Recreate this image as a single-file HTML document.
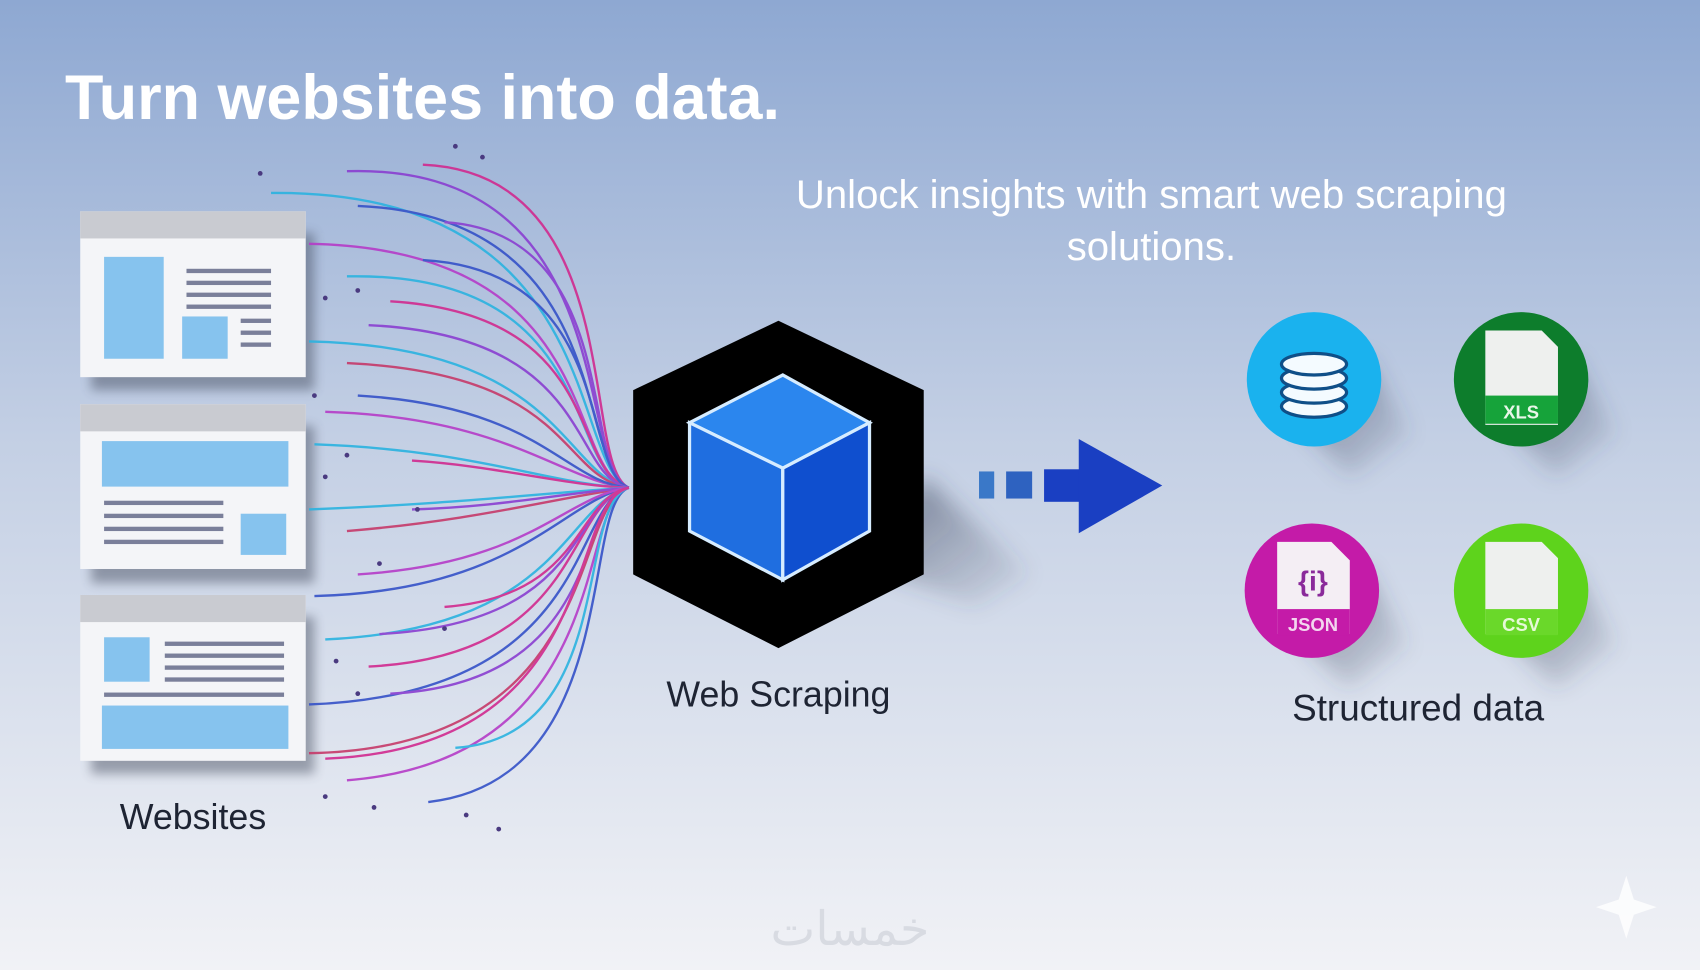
<!DOCTYPE html>
<html><head><meta charset="utf-8"><style>
html,body{margin:0;padding:0;width:1700px;height:970px;overflow:hidden}
svg{display:block}
text{font-family:"Liberation Sans",sans-serif}
</style></head><body>
<svg width="1700" height="970" viewBox="0 0 1568 895" preserveAspectRatio="none" xmlns="http://www.w3.org/2000/svg">
<defs>
<linearGradient id="bg" x1="0" y1="0" x2="0" y2="1">
<stop offset="0" stop-color="#8ea8d2"/><stop offset="0.45" stop-color="#c3cfe4"/><stop offset="1" stop-color="#f1f2f6"/>
</linearGradient>
<linearGradient id="sh" x1="0" y1="0" x2="1" y2="1">
<stop offset="0" stop-color="#3a4258" stop-opacity="0.6"/><stop offset="1" stop-color="#3a4258" stop-opacity="0"/>
</linearGradient>
<filter id="bl" x="-50%" y="-50%" width="200%" height="200%"><feGaussianBlur stdDeviation="10"/></filter>
<filter id="bl2" x="-50%" y="-50%" width="200%" height="200%"><feGaussianBlur stdDeviation="5"/></filter>
</defs>
<rect width="1568" height="895" fill="url(#bg)"/>
<text x="60" y="110" font-size="58" font-weight="bold" fill="#fff">Turn websites into data.</text>
<text x="1062" y="192" font-size="37" fill="#fff" text-anchor="middle">Unlock insights with smart web scraping</text>
<text x="1062" y="240" font-size="37" fill="#fff" text-anchor="middle">solutions.</text>

<!-- cards -->
<g>
<rect x="84" y="215" width="206" height="145" fill="#3d4457" opacity="0.45" filter="url(#bl2)"/>
<rect x="74" y="195" width="208" height="153" fill="#f4f5f8"/><rect x="74" y="195" width="208" height="25" fill="#c9cbd1"/>
<rect x="96" y="237" width="55" height="94" fill="#86c3ee"/><rect x="168" y="292" width="42" height="39" fill="#86c3ee"/>
<g fill="#7a7f9a"><rect x="172" y="248" width="78" height="4"/><rect x="172" y="259" width="78" height="4"/><rect x="172" y="270" width="78" height="4"/><rect x="172" y="281" width="78" height="4"/>
<rect x="222" y="294" width="28" height="4"/><rect x="222" y="305" width="28" height="4"/><rect x="222" y="316" width="28" height="4"/></g>
<rect x="84" y="393" width="206" height="145" fill="#3d4457" opacity="0.45" filter="url(#bl2)"/>
<rect x="74" y="373" width="208" height="152" fill="#f4f5f8"/><rect x="74" y="373" width="208" height="25" fill="#c9cbd1"/>
<rect x="94" y="407" width="172" height="42" fill="#86c3ee"/><rect x="222" y="474" width="42" height="38" fill="#86c3ee"/>
<g fill="#7a7f9a"><rect x="96" y="462" width="110" height="4"/><rect x="96" y="474" width="110" height="4"/><rect x="96" y="486" width="110" height="4"/><rect x="96" y="498" width="110" height="4"/></g>
<rect x="84" y="569" width="206" height="145" fill="#3d4457" opacity="0.45" filter="url(#bl2)"/>
<rect x="74" y="549" width="208" height="153" fill="#f4f5f8"/><rect x="74" y="549" width="208" height="25" fill="#c9cbd1"/>
<rect x="96" y="588" width="42" height="41" fill="#86c3ee"/><rect x="94" y="651" width="172" height="40" fill="#86c3ee"/>
<g fill="#7a7f9a"><rect x="152" y="592" width="110" height="4"/><rect x="152" y="603" width="110" height="4"/><rect x="152" y="614" width="110" height="4"/><rect x="152" y="625" width="110" height="4"/><rect x="96" y="639" width="166" height="4"/></g>
</g>
<text x="178" y="765" font-size="33" fill="#1e2433" text-anchor="middle">Websites</text>

<!-- curves -->
<g fill="none" stroke-width="2.2" opacity="0.9">
<path d="M320 158 C575 150 530 430 580 450" stroke="#8a3fd1"/>
<path d="M390 152 C580 160 535 430 580 450" stroke="#d12a8f"/>
<path d="M250 178 C560 175 525 430 580 450" stroke="#2bb3e0"/>
<path d="M330 190 C570 200 530 430 580 450" stroke="#3552c8"/>
<path d="M285 225 C560 230 520 435 580 450" stroke="#b53cc8"/>
<path d="M410 205 C575 215 535 435 580 450" stroke="#8a3fd1"/>
<path d="M320 255 C555 250 520 435 580 450" stroke="#2bb3e0"/>
<path d="M360 278 C560 290 525 435 580 450" stroke="#d12a8f"/>
<path d="M390 240 C570 250 535 435 580 450" stroke="#3552c8"/>
<path d="M285 315 C520 320 520 440 580 450" stroke="#2bb3e0"/>
<path d="M320 335 C530 345 515 440 580 450" stroke="#c63a6a"/>
<path d="M340 300 C550 310 525 440 580 450" stroke="#8a3fd1"/>
<path d="M300 380 C470 385 520 445 580 450" stroke="#b53cc8"/>
<path d="M330 365 C500 375 520 445 580 450" stroke="#3552c8"/>
<path d="M290 410 C440 415 510 448 580 450" stroke="#2bb3e0"/>
<path d="M380 425 C460 430 520 448 580 450" stroke="#d12a8f"/>
<path d="M285 470 C420 465 500 455 580 450" stroke="#2bb3e0"/>
<path d="M320 490 C440 480 510 460 580 450" stroke="#c63a6a"/>
<path d="M380 470 C460 468 520 455 580 450" stroke="#8a3fd1"/>
<path d="M290 550 C480 545 520 460 580 450" stroke="#3552c8"/>
<path d="M330 530 C490 520 520 458 580 450" stroke="#b53cc8"/>
<path d="M300 590 C520 580 520 465 580 450" stroke="#2bb3e0"/>
<path d="M340 615 C540 605 520 465 580 450" stroke="#d12a8f"/>
<path d="M285 650 C550 640 525 465 580 450" stroke="#3552c8"/>
<path d="M360 640 C560 630 530 465 580 450" stroke="#8a3fd1"/>
<path d="M285 695 C560 690 525 465 580 450" stroke="#c63a6a"/>
<path d="M320 720 C570 700 530 465 580 450" stroke="#b53cc8"/>
<path d="M395 740 C575 720 535 465 580 450" stroke="#3552c8"/>
<path d="M420 690 C570 680 530 465 580 450" stroke="#2bb3e0"/>
<path d="M350 585 C545 575 525 462 580 450" stroke="#8a3fd1"/>
<path d="M410 560 C540 550 530 460 580 450" stroke="#d12a8f"/>
<path d="M300 700 C560 690 520 465 580 450" stroke="#d12a8f"/>
</g>
<g fill="#4a3a80">
<circle cx="240" cy="160" r="2.2"/><circle cx="300" cy="275" r="2.2"/><circle cx="330" cy="268" r="2.2"/><circle cx="290" cy="365" r="2.2"/><circle cx="320" cy="420" r="2.2"/><circle cx="350" cy="520" r="2.2"/><circle cx="310" cy="610" r="2.2"/><circle cx="300" cy="735" r="2.2"/><circle cx="345" cy="745" r="2.2"/><circle cx="430" cy="752" r="2.2"/><circle cx="460" cy="765" r="2.2"/><circle cx="420" cy="135" r="2.2"/><circle cx="445" cy="145" r="2.2"/><circle cx="385" cy="470" r="2.2"/><circle cx="410" cy="580" r="2.2"/><circle cx="330" cy="640" r="2.2"/><circle cx="300" cy="440" r="2.2"/>
</g>

<!-- hexagon -->
<polygon points="852,440 950,530 900,560 800,520" fill="url(#sh)" filter="url(#bl)"/>
<polygon points="718,296 852,360 852,530 718,598 584,530 584,360" fill="#000"/>
<polygon points="636,390 722,346 802,390 722,432" fill="#2b86ee" stroke="#d6ecff" stroke-width="3"/>
<polygon points="636,390 722,432 722,535 636,490" fill="#1f6ee0" stroke="#d6ecff" stroke-width="3"/>
<polygon points="722,432 802,390 802,490 722,535" fill="#0f4fcf" stroke="#d6ecff" stroke-width="3"/>
<text x="718" y="652" font-size="33" fill="#1e2433" text-anchor="middle">Web Scraping</text>

<!-- arrow -->
<rect x="903" y="435" width="14" height="25" fill="#3a78c8"/>
<rect x="928" y="435" width="24" height="25" fill="#2e62c0"/>
<rect x="963" y="433" width="36" height="30" fill="#1a3fc2"/>
<polygon points="995,405 1072,448 995,492" fill="#1a3fc2"/>

<!-- circles -->
<g>
<polygon points="1200,390 1260,330 1300,400 1245,440" fill="url(#sh)" filter="url(#bl)"/>
<circle cx="1212" cy="350" r="62" fill="#1ab2ee"/>
<g fill="#f4fbff" stroke="#0f4f88" stroke-width="3">
<ellipse cx="1212" cy="375" rx="30" ry="10"/>
<ellipse cx="1212" cy="362" rx="30" ry="10"/>
<ellipse cx="1212" cy="349" rx="30" ry="10"/>
<ellipse cx="1212" cy="336" rx="30" ry="10"/>
</g>
<polygon points="1390,390 1450,330 1490,400 1435,440" fill="url(#sh)" filter="url(#bl)"/>
<circle cx="1403" cy="350" r="62" fill="#0d7d2c"/>
<polygon points="1370,305 1422,305 1437,320 1437,392 1370,392" fill="#eef0ee"/>
<rect x="1370" y="365" width="67" height="26" fill="#16a33a"/>
<text x="1403" y="386" font-size="17" font-weight="bold" fill="#e9f6e9" text-anchor="middle">XLS</text>
<polygon points="1198,585 1258,525 1298,595 1243,635" fill="url(#sh)" filter="url(#bl)"/>
<circle cx="1210" cy="545" r="62" fill="#c41ba8"/>
<polygon points="1178,500 1228,500 1245,517 1245,585 1178,585" fill="#f4eef4"/>
<rect x="1178" y="562" width="67" height="24" fill="#c41ba8"/>
<text x="1211" y="545" font-size="26" font-weight="bold" fill="#8a2a9a" text-anchor="middle">{i}</text>
<text x="1211" y="582" font-size="17" font-weight="bold" fill="#f3d6ef" text-anchor="middle">JSON</text>
<polygon points="1390,585 1450,525 1490,595 1435,635" fill="url(#sh)" filter="url(#bl)"/>
<circle cx="1403" cy="545" r="62" fill="#5ed31c"/>
<polygon points="1370,500 1422,500 1437,515 1437,585 1370,585" fill="#eef0ee"/>
<rect x="1370" y="562" width="67" height="24" fill="#6ad82a"/>
<text x="1403" y="582" font-size="17" font-weight="bold" fill="#e6f9d8" text-anchor="middle">CSV</text>
</g>
<text x="1308" y="665" font-size="34" fill="#1e2433" text-anchor="middle">Structured data</text>

<text x="784" y="872" font-size="44" fill="#d8dbe2" text-anchor="middle" font-family="'DejaVu Sans',sans-serif">خمسات</text>
<polygon points="1500,808 1507,830 1528,837 1507,844 1500,866 1493,844 1472,837 1493,830" fill="#fff" opacity="0.8"/>
</svg>
</body></html>
